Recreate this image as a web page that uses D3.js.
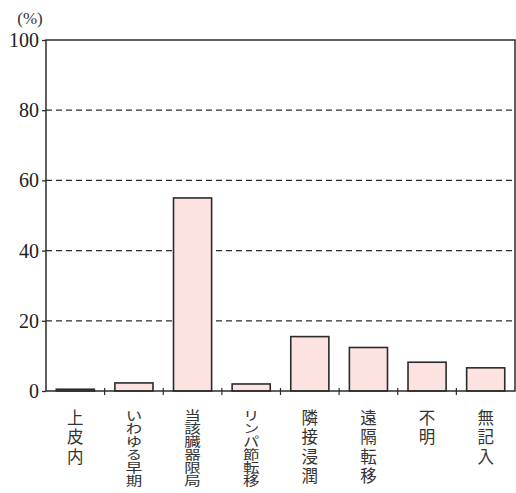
<!DOCTYPE html>
<html>
<head>
<meta charset="utf-8">
<script src="https://cdn.jsdelivr.net/npm/d3@7"></script>
<style>
  body { margin: 0; background: #fff; }
  svg { display: block; }
</style>
</head>
<body>
<div id="chart"></div>
<script>
"use strict";

// categories and values (%)
const categories = ['上皮内', 'いわゆる早期', '当該臓器限局', 'リンパ節転移', '隣接浸潤', '遠隔転移', '不明', '無記入'];
const values = [0.5, 2.3, 55, 2, 15.5, 12.4, 8.2, 6.6];
const yTicks = [0, 20, 40, 60, 80, 100];

const W = 516, H = 493;
const plot = { left: 46, right: 515, top: 40, bottom: 391 };

const svg = d3.select('#chart').append('svg')
	.attr('width', W)
	.attr('height', H);

const x = d3.scaleBand()
	.domain(categories)
	.range([plot.left, plot.right])
	.paddingInner(0.35)
	.paddingOuter(0.175);

const y = d3.scaleLinear()
	.domain([0, 100])
	.range([plot.bottom, plot.top]);

const ink = '#2b2b2b';
const numFont = '"Liberation Serif", "DejaVu Serif", serif';
const jpFont = '"Noto Sans CJK JP", sans-serif';

// dashed grid
svg.append('g')
	.selectAll('line')
	.data(yTicks.filter(t => t > 0 && t < 100))
	.enter().append('line')
	.attr('x1', plot.left)
	.attr('x2', plot.right - 3)
	.attr('y1', d => y(d))
	.attr('y2', d => y(d))
	.attr('stroke', ink)
	.attr('stroke-width', 1.3)
	.attr('stroke-dasharray', '6,4');

// bars
svg.append('g')
	.selectAll('rect')
	.data(categories)
	.enter().append('rect')
	.attr('x', d => x(d))
	.attr('y', (d, i) => y(values[i]))
	.attr('width', x.bandwidth())
	.attr('height', (d, i) => plot.bottom - y(values[i]))
	.attr('fill', '#fde2e2')
	.attr('stroke', ink)
	.attr('stroke-width', 1.6);

// frame
svg.append('rect')
	.attr('x', plot.left)
	.attr('y', plot.top)
	.attr('width', plot.right - plot.left)
	.attr('height', plot.bottom - plot.top)
	.attr('fill', 'none')
	.attr('stroke', ink)
	.attr('stroke-width', 1.5);

// y axis
const yAxis = svg.append('g')
	.attr('transform', `translate(${plot.left},0)`)
	.call(d3.axisLeft(y).tickValues(yTicks).tickSize(4).tickPadding(3));
yAxis.select('.domain').remove();
yAxis.selectAll('line').attr('stroke', ink).attr('stroke-width', 1.3);
yAxis.selectAll('text')
	.attr('fill', '#222')
	.style('font-family', numFont)
	.style('font-size', '20px');

svg.append('text')
	.attr('x', 30)
	.attr('y', 24)
	.attr('text-anchor', 'middle')
	.attr('fill', '#333')
	.style('font-family', numFont)
	.style('font-size', '17px')
	.text('(%)');

// x ticks between categories
const step = x.step();
svg.append('g')
	.selectAll('line')
	.data(categories.slice(1))
	.enter().append('line')
	.attr('x1', d => x(d) - x.paddingInner() * step / 2)
	.attr('x2', d => x(d) - x.paddingInner() * step / 2)
	.attr('y1', plot.bottom - 3)
	.attr('y2', plot.bottom + 4)
	.attr('stroke', ink)
	.attr('stroke-width', 1.2);

// vertical category labels, one text per character
const labelTop = 409, labelRoom = 78;
categories.forEach(c => {
	const chars = Array.from(c);
	const pitch = Math.min(19.5, labelRoom / chars.length);
	const fs = Math.min(16.5, pitch - 0.3);
	const sx = 16.5 / fs;
	const cx = x(c) + x.bandwidth() / 2;
	chars.forEach((ch, j) => {
		svg.append('text')
			.attr('transform', `translate(${cx},${labelTop + j * pitch}) scale(${sx},1)`)
			.attr('x', 0)
			.attr('y', 0)
			.style('writing-mode', 'vertical-rl')
			.style('text-orientation', 'upright')
			.style('font-family', jpFont)
			.style('font-size', fs + 'px')
			.attr('fill', '#333')
			.text(ch);
	});
});
</script>
</body>
</html>
